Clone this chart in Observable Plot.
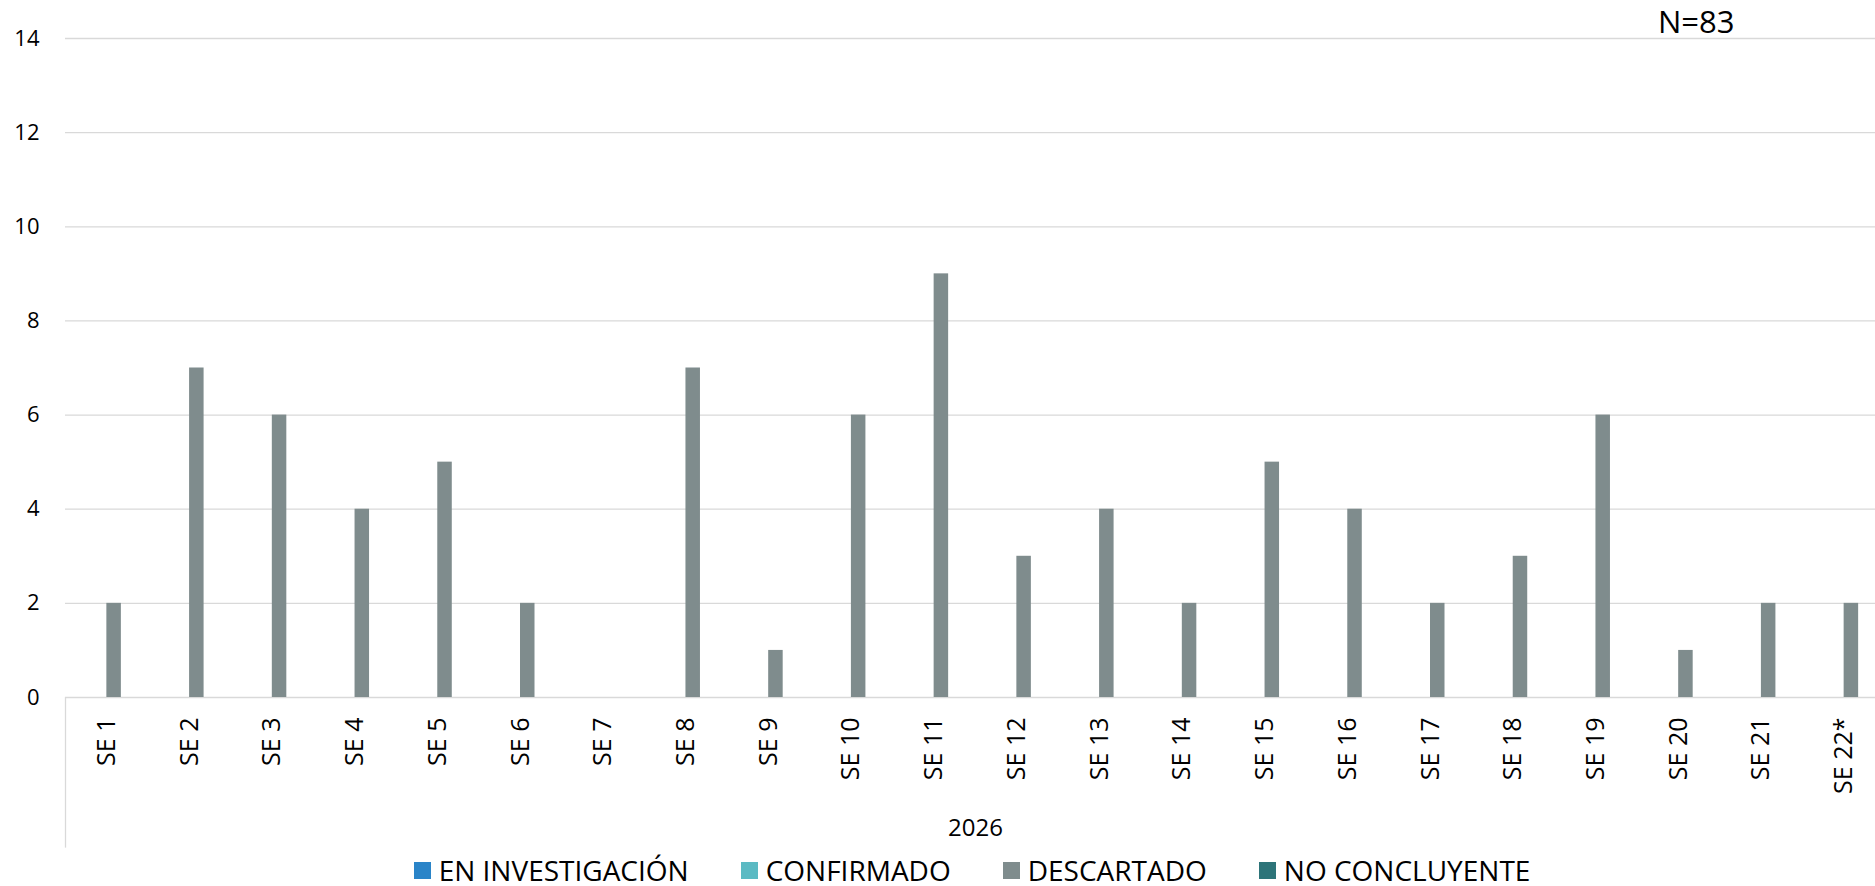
<!DOCTYPE html>
<html><head><meta charset="utf-8">
<script src="https://cdn.jsdelivr.net/npm/d3@7"></script>
<script src="https://cdn.jsdelivr.net/npm/@observablehq/plot@0.6"></script>
<style>
html,body{margin:0;padding:0;background:#fff;overflow:hidden;width:1875px;height:886px;}
#legend{display:flex;justify-content:center;padding-left:69px;margin-top:6px;font-family:"Open Sans";font-size:28px;line-height:28px;color:#000;}
.item{display:flex;align-items:center;margin:0 26px;}
.sw{width:17px;height:17px;margin-right:8px;}
</style></head><body>
<div id="chart"></div><div id="legend"></div>
<script>
const weeks = ["SE 1","SE 2","SE 3","SE 4","SE 5","SE 6","SE 7","SE 8","SE 9","SE 10","SE 11","SE 12","SE 13","SE 14","SE 15","SE 16","SE 17","SE 18","SE 19","SE 20","SE 21","SE 22*"];
const descartado = [2,7,6,4,5,2,0,7,1,6,9,3,4,2,5,4,2,3,6,1,2,2];
const seriesNames = ["EN INVESTIGACIÓN","CONFIRMADO","DESCARTADO","NO CONCLUYENTE"];
const seriesColors = ["#2a84c8","#5bbac3","#7f8c8d","#2d7479"];
const yTicks = [0,2,4,6,8,10,12,14];
const groupLabel = "2026";
const totalLabel = "N=83";

const data = weeks.map((w,i)=>({week:w, value:descartado[i]}));
const bandStart = 65, bandEnd = 1885;
const bw = (bandEnd-bandStart)/weeks.length;
const barW = 14.5;

const chart = Plot.plot({
  width:1875, height:850, marginTop:38, marginLeft:65, marginRight:0, marginBottom:153,
  style:{fontFamily:"Open Sans", fontSize:"22px", color:"#000", background:"#fff"},
  x:{type:"band", domain:weeks, range:[bandStart,bandEnd], padding:0, round:false},
  y:{domain:[0,14]},
  marks:[
    Plot.gridY(yTicks, {stroke:"#d9d9d9", strokeOpacity:1, strokeWidth:1.3}),
    Plot.ruleX([weeks[0]], {y1:0, y2:-3.2, dx:-bw/2, stroke:"#d9d9d9", strokeWidth:1.3}),
    Plot.barY(data, {x:"week", y:"value", fill:seriesColors[2], insetLeft:bw/2, insetRight:bw/2-barW}),
    Plot.axisY(yTicks, {tickSize:0, tickPadding:26, fontSize:22, label:null}),
    Plot.axisX({tickRotate:-90, tickSize:0, tickPadding:20, fontSize:25, label:null}),
    Plot.text([groupLabel], {frameAnchor:"bottom", dx:5, dy:131, lineAnchor:"middle", fontSize:24}),
    Plot.text([totalLabel], {frameAnchor:"top-right", dx:-141, dy:-15.5, lineAnchor:"middle", fontSize:31})
  ]
});
document.getElementById("chart").appendChild(chart);

const legend = document.getElementById("legend");
seriesNames.forEach((n,i)=>{
  const it = document.createElement("div"); it.className="item";
  const sw = document.createElement("span"); sw.className="sw"; sw.style.background=seriesColors[i];
  const t = document.createElement("span"); t.textContent=n;
  it.appendChild(sw); it.appendChild(t); legend.appendChild(it);
});
</script>
</body></html>
